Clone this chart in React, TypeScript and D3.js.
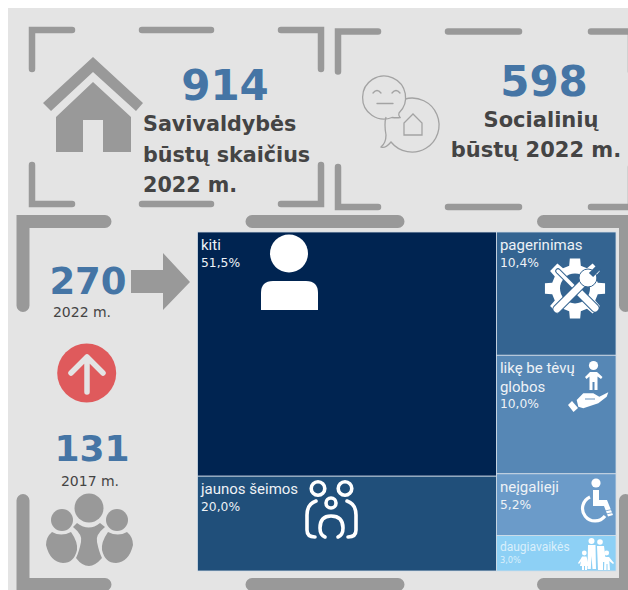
import React from "react";
import * as d3 from "d3";

const WIDTH = 628;
const HEIGHT = 590;

const groups = ["left", "right"];
const categories = ["kiti", "jaunos šeimos", "pagerinimas", "likę be tėvų globos", "neįgalieji", "daugiavaikės"];
const categoryGroups = ["left", "left", "right", "right", "right", "right"];
const shares = [51.5, 20.0, 10.4, 10.0, 5.2, 3.0];
const cellColors = ["#002451", "#204f7a", "#346491", "#5687b5", "#6b9bc9", "#8dd0f5"];

const GRAY = "#999999";
const BLUE = "#4575a5";
const DARK = "#444444";
const BG = "#e4e4e4";
const SANS = "'DejaVu Sans', sans-serif";

const leaves = categories.map((name, i) => ({ name, group: categoryGroups[i], value: shares[i], color: cellColors[i] }));

const root = d3
  .hierarchy<any>({
    name: "root",
    children: groups.map((g) => ({ name: g, children: leaves.filter((d) => d.group === g) })),
  })
  .sum((d) => d.value || 0);

d3
  .treemap<any>()
  .tile(d3.treemapSliceDice)
  .size([418.5, 339])(root);

const fmt = (v: number) => v.toFixed(1).replace(".", ",") + "%";

// frame made of corner brackets and dashes
const Frame = ({ x0, y0, x1, y1, arm, v, mid, w }: any) => {
  const d = [
    `M${x0 + arm} ${y0}H${x0}V${y0 + v}`,
    `M${x1 - arm} ${y0}H${x1}V${y0 + v}`,
    `M${x0 + arm} ${y1}H${x0}V${y1 - v}`,
    `M${x1 - arm} ${y1}H${x1}V${y1 - v}`,
    `M${mid[0]} ${y0}H${mid[1]}`,
    `M${mid[0]} ${y1}H${mid[1]}`,
  ].join("");
  return <path d={d} fill="none" stroke={GRAY} strokeWidth={w} strokeLinecap="round" strokeLinejoin="miter" />;
};

const gearPath = (cx: number, cy: number) => {
  const teeth = 8;
  const pts: string[] = [];
  for (let i = 0; i < teeth; i++) {
    const a = (i / teeth) * Math.PI * 2;
    const p = (r: number, da: number) => `${cx + r * Math.cos(a + da)} ${cy + r * Math.sin(a + da)}`;
    pts.push(p(23.5, -0.25), p(30.5, -0.17), p(30.5, 0.17), p(23.5, 0.25));
  }
  return "M" + pts.join("L") + "Z";
};

const Icons = () => (
  <g>
    {/* house */}
    <path d="M93 57L143 103L136 111L93 72L51 111L43 103Z" fill={GRAY} />
    <path d="M93 82L131 117V152H103V120H83V152H56V117Z" fill={GRAY} />
    {/* speech bubbles */}
    <g fill="none" stroke="#a3a3a3" strokeWidth={1.3}>
      <path d="M399 113A21.5 21.5 0 1 0 392 117.5Q397 118 400 117.5Q398 115 399 113Z" />
      <path d="M405 99A27 27 0 1 1 391 142Q385 149 381 147Q386 143 386 135Q384 124 386 117" />
      <path d="M373 93Q377 88 381 93M392 93Q396 88 400 93M377 103.5H393" strokeLinecap="round" />
      <path d="M404 135V123L413 114L422 123V135Z" />
    </g>
    {/* arrow to treemap */}
    <path d="M131 270H163V253L190 282L163 310V293H131Z" fill={GRAY} />
    {/* red circle */}
    <circle cx={86.7} cy={373} r={29.5} fill="#df5a5c" />
    <path d="M87 392V357M71 373L87 357L103 373" fill="none" stroke={BG} strokeWidth={5.5} strokeLinecap="round" strokeLinejoin="round" />
    {/* people */}
    <g fill={GRAY}>
      <circle cx={89} cy={508} r={14.5} />
      <circle cx={62} cy={520} r={11} />
      <circle cx={117} cy={520} r={11} />
      <path d="M73 527L77 523Q89 532 100 523L105 527Q95 535 97 542Q99 552 102 558Q95 566 89 566Q82 566 76 558Q79 552 81 542Q83 535 73 527Z" />
      <path d="M52 532Q61 537 71 532Q78 542 77 550Q74 563 63 563Q50 562 46 545Q46 537 52 532Z" />
      <path d="M127 532Q118 537 108 532Q101 542 102 550Q105 563 116 563Q129 562 133 545Q133 537 127 532Z" />
    </g>
  </g>
);

// white pictograms for the treemap, local to the page
const CellIcons = () => (
  <g>
    {/* person */}
    <circle cx={289} cy={253.5} r={19} fill="#fff" />
    <path d="M261 310V293Q261 281 273 281H306Q318 281 318 293V310Z" fill="#fff" />
    {/* young family */}
    <g fill="none" stroke="#fff" strokeWidth={3.6} strokeLinecap="round">
      <circle cx={318} cy={488.5} r={6.8} />
      <circle cx={345} cy={488.5} r={6.8} />
      <circle cx={331} cy={503} r={5} />
      <path d="M316 501Q307 504 307 515V530Q307 537 315 537" />
      <path d="M347 501Q356 504 356 515V530Q356 537 348 537" />
      <path d="M325 537Q320 535 320 528Q320 516 331 516Q343 516 343 528Q343 535 338 537" />
    </g>
    {/* gear with tools */}
    <path d={gearPath(575, 288.5)} fill="#fff" />
    <circle cx={575} cy={288.5} r={15} fill="#346491" />
    <g strokeLinecap="round">
      <path d="M558 271L593 306" stroke="#346491" strokeWidth={5.5} />
      <path d="M558 271L593 306" stroke="#fff" strokeWidth={3.5} />
      <path d="M578 291L595 308" stroke="#346491" strokeWidth={9} />
      <path d="M578 291L595 308" stroke="#fff" strokeWidth={7} />
      <path d="M557 309L583 283" stroke="#346491" strokeWidth={9} />
      <path d="M557 309L583 283" stroke="#fff" strokeWidth={7} />
      <circle cx={588} cy={278} r={9} fill="#fff" stroke="#346491" strokeWidth={1} />
      <path d="M591 275L598 268" stroke="#346491" strokeWidth={6} strokeLinecap="butt" />
    </g>
    {/* child and hand */}
    <circle cx={593.5} cy={365.5} r={4.6} fill="#fff" />
    <path d="M585 377L590 372H597L602.5 377L601 379L597.5 376.5V390H594.5V382H592.5V390H589.5V376.5L586.5 379Z" fill="#fff" />
    <path d="M576.7 400L583.3 393.3H593.3L599.3 396.7L608.3 392.3L606.7 396.7L598.3 403.3L583.3 408.3L578.3 406.7Z" fill="#fff" />
    <path d="M572 401L578 408L573.5 412L568 405Z" fill="#fff" />
    <path d="M585 399H595" stroke="#5687b5" strokeWidth={0.9} />
    {/* wheelchair */}
    <circle cx={596} cy={483} r={4.6} fill="#fff" />
    <path d="M593 490H599V500H607L613 515L608 516.5L604 506H593Z" fill="#fff" />
    <path d="M590 497A12.5 12.5 0 1 0 605 516" fill="none" stroke="#fff" strokeWidth={3.2} />
    <path d="M605 511L612 509.5M606 514L613 512.5" stroke={"#6b9bc9"} strokeWidth={0.8} />
    {/* large family */}
    <g fill="#fff">
      <circle cx={591.5} cy={541} r={3} />
      <path d="M588 545H595.5L596 569H592.5L591.5 556L590.8 569H587.5Z" />
      <circle cx={600} cy={542} r={2.8} />
      <path d="M597 546H604L606 562H603V570H598Z" />
      <circle cx={584.3} cy={553} r={2.4} />
      <path d="M582 556.5H586.5L589 566H587V570H585V566H584V570H582V566H580Z" />
      <path d="M582 557L578 563L579 564L583 559Z" />
      <circle cx={606.7} cy={553} r={2.4} />
      <path d="M604.5 557H609L610 570H607.5V564H606.5V570H604Z" />
      <path d="M609 557L614 563L613 564L608 560Z" />
    </g>
  </g>
);

const App = () => {
  const offsetX = 197.5;
  const offsetY = 232;
  const cells = root.leaves();

  return (
    <svg
      width={WIDTH}
      height={HEIGHT}
      style={{ position: "absolute", left: 0, top: 0, display: "block", fontFamily: SANS }}
    >
      <rect x={8} y={8} width={WIDTH - 8} height={HEIGHT - 8} fill={BG} />

      <Frame x0={32} y0={30} x1={321} y1={204} arm={40} v={39} mid={[142, 211]} w={6.5} />
      <Frame x0={338} y0={31.5} x1={631} y1={207} arm={40} v={40} mid={[448, 519]} w={6.5} />
      <Frame x0={23} y0={221.5} x1={625.5} y1={584.5} arm={82} v={84} mid={[252, 398]} w={13} />

      <text x={225} y={100} textAnchor="middle" fontSize={42} fontWeight={700} fill={BLUE}>914</text>
      <g fontSize={20.7} fontWeight={700} fill={DARK}>
        <text x={143} y={131}>Savivaldybės</text>
        <text x={143} y={162}>būstų skaičius</text>
        <text x={143} y={192}>2022 m.</text>
      </g>

      <text x={544} y={96} textAnchor="middle" fontSize={42} fontWeight={700} fill={BLUE}>598</text>
      <g fontSize={21} fontWeight={700} fill={DARK} textAnchor="middle">
        <text x={541} y={127}>Socialinių</text>
        <text x={536} y={157}>būstų 2022 m.</text>
      </g>

      <text x={88} y={294} textAnchor="middle" fontSize={37} fontWeight={700} fill={BLUE}>270</text>
      <text x={82} y={317} textAnchor="middle" fontSize={14} fill={DARK}>2022 m.</text>
      <text x={92} y={461} textAnchor="middle" fontSize={36} fontWeight={700} fill={BLUE}>131</text>
      <text x={90} y={486} textAnchor="middle" fontSize={14} fill={DARK}>2017 m.</text>

      <Icons />

      <g transform={`translate(${offsetX},${offsetY})`}>
        {cells.map((c: any) => (
          <rect
            key={c.data.name}
            x={c.x0}
            y={c.y0}
            width={c.x1 - c.x0}
            height={c.y1 - c.y0}
            fill={c.data.color}
            stroke="#d3dce6"
            strokeWidth={0.8}
          />
        ))}
        {cells.map((c: any) => {
          const small = c.data.name === "daugiavaikės";
          const wrap = c.data.name === "likę be tėvų globos";
          const lines = wrap ? ["likę be tėvų", "globos"] : [c.data.name];
          const fill = small ? "#d9effb" : "#eef2f6";
          return (
            <g key={c.data.name} transform={`translate(${c.x0 + 3.5},${c.y0})`} fill={fill} fontFamily="Roboto, sans-serif">
              {lines.map((l: string, i: number) => (
                <text key={l} y={(small ? 16 : 18) + i * 18.5} fontSize={small ? 12 : 15}>{l}</text>
              ))}
              <text
                y={(small ? 27.5 : 35) + (lines.length - 1) * 18}
                fontSize={small ? 8.3 : 12.3}
                fontFamily={SANS}
              >
                {fmt(c.data.value)}
              </text>
            </g>
          );
        })}
      </g>

      <CellIcons />
    </svg>
  );
};

export default App;
